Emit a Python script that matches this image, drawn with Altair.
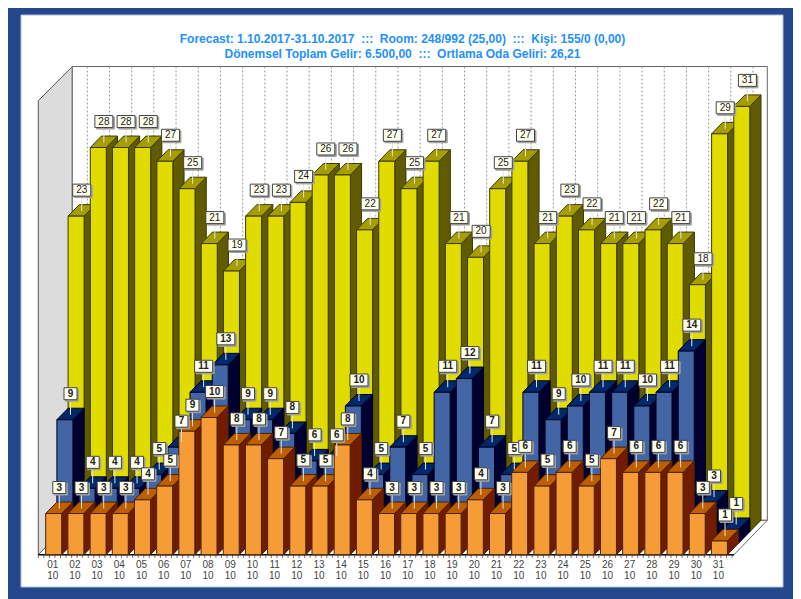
import altair as alt
import pandas as pd

yellow = [23,28,28,28,27,25,21,19,23,23,24,26,26,22,27,25,27,21,20,25,27,21,23,22,21,21,22,21,18,29,31]
blue = [9,4,4,4,5,7,11,13,9,9,8,6,6,10,5,7,5,11,12,7,5,11,9,10,11,11,10,11,14,3,1]
orange = [3,3,3,3,4,5,9,10,8,8,7,5,5,8,4,3,3,3,3,4,3,6,5,6,5,7,6,6,6,3,1]
days = [f"{d:02d}" for d in range(1, 32)]
month = "10"
title_1 = "Forecast: 1.10.2017-31.10.2017\u00a0\u00a0:::\u00a0\u00a0Room: 248/992 (25,00)\u00a0\u00a0:::\u00a0\u00a0Kişi: 155/0 (0,00)"
title_2 = "Dönemsel Toplam Gelir: 6.500,00\u00a0\u00a0:::\u00a0\u00a0Ortlama Oda Geliri: 26,21"

W_PX, H_PX = 785, 591
PX_DAY = 22.19
PX_VAL = 13.72
X0 = 45.7
Y0 = 554.7


def ux(px):
    return 1 + (px - X0) / PX_DAY


def uy(py):
    return (Y0 - py) / PX_VAL


XS = alt.Scale(domain=[ux(8), ux(8 + W_PX)], nice=False, zero=False)
YS = alt.Scale(domain=[uy(8 + H_PX), uy(8)], nice=False, zero=False)
X = alt.X("x:Q", axis=None, scale=XS)
Y = alt.Y("y:Q", axis=None, scale=YS)
X2 = alt.X2("x2:Q")
Y2 = alt.Y2("y2:Q")

BW = 16 / PX_DAY
DX = 11.2 / PX_DAY
DY = 11.5 / PX_VAL

palette = [
    (yellow, 2, "#E0DC00", "#A69E00", "#605A00", "#3A3800"),
    (blue, 1, "#4165A5", "#00296B", "#000030", "#000020"),
    (orange, 0, "#F59C36", "#BD5E00", "#711C00", "#4A2000"),
]


def faces(values, k, front, top, side, edge):
    rows = []
    for i, v in enumerate(values):
        L = i + 1 + k * DX
        b = k * DY
        t = b + v
        pid = f"{k}-{i:02d}"
        for (x, y, y2) in [(L + BW, t, b), (L + BW + DX, t + DY, b + DY)]:
            rows.append(dict(x=x, y=y, y2=y2, f=f"{pid}-a", c=side, s=edge))
        for (x, y, y2) in [(L, t, t), (L + DX, t + DY, t), (L + BW, t + DY, t), (L + BW + DX, t + DY, t + DY)]:
            rows.append(dict(x=x, y=y, y2=y2, f=f"{pid}-b", c=top, s=edge))
        for (x, y, y2) in [(L, t, b), (L + BW, t, b)]:
            rows.append(dict(x=x, y=y, y2=y2, f=f"{pid}-c", c=front, s=edge))
    return pd.DataFrame(rows)


def bars(df):
    return alt.Chart(df).mark_area(strokeWidth=1, interpolate="linear", clip=False).encode(
        x=X, y=Y, y2=Y2,
        fill=alt.Fill("c:N", scale=None),
        stroke=alt.Stroke("s:N", scale=None),
        detail="f:N",
    )


def labels(values, k, weight):
    leader, box = [], []
    for i, v in enumerate(values):
        cx = i + 1 + k * DX + BW / 2 + DX / 2
        t = k * DY + v
        hw = (9 if v >= 10 else 6.5) / PX_DAY
        hh = 6 / PX_VAL
        cy = t + 26 / PX_VAL
        leader.append(dict(x=cx, y=cy, y2=t + 5 / PX_VAL))
        sx, sy = 1.5 / PX_DAY, 1.5 / PX_VAL
        box.append(dict(x=cx - hw + sx, x2=cx + hw + sx, y=cy - hh - sy, y2=cy + hh - sy, c="#A0A0A0", s="#A0A0A0", o=2 * i))
        box.append(dict(x=cx - hw, x2=cx + hw, y=cy - hh, y2=cy + hh, c="#FFFFF0", s="#444444", o=2 * i + 1))
    ldf = pd.DataFrame(leader)
    bdf = pd.DataFrame(box)
    tdf = pd.DataFrame([dict(x=l["x"], y=l["y"], t=str(v)) for l, v in zip(leader, values)])
    lead = alt.Chart(ldf).mark_rule(color="#E4E4E4", strokeWidth=1).encode(x=X, y=Y, y2=Y2)
    rect = alt.Chart(bdf).mark_rect(strokeWidth=1).encode(
        x=X, x2=X2, y=Y, y2=Y2,
        fill=alt.Fill("c:N", scale=None),
        stroke=alt.Stroke("s:N", scale=None),
        order="o:Q",
    )
    text = alt.Chart(tdf).mark_text(font="Liberation Sans", fontSize=10, fontWeight=weight, color="#222222", baseline="middle", align="center").encode(
        x=X, y=Y, text="t:N"
    )
    return [lead, rect, text]


# Panel
panel = alt.Chart(pd.DataFrame({"a": [0]})).mark_rect(fill="white", stroke="#AFC0DC", strokeWidth=1).encode(
    x=alt.value(13), x2=alt.value(775), y=alt.value(7), y2=alt.value(579)
)

# Walls and floor
xa, xb, xc, xd = ux(38.3), ux(72.3), ux(734), ux(767.3)
yf, yb, yt, ytl = uy(554.7), uy(520.3), uy(66.5), uy(100.7)
left = alt.Chart(pd.DataFrame({"x": [xa, xb], "y": [ytl, yt], "y2": [yf, yb]})).mark_area(
    color="#DCDCDC", stroke="#555555", strokeWidth=1).encode(x=X, y=Y, y2=Y2)
back = alt.Chart(pd.DataFrame({"x": [xb, xd], "y": [yt, yt], "y2": [yb, yb]})).mark_area(
    color="white", stroke="#666666", strokeWidth=1).encode(x=X, y=Y, y2=Y2)
floor = alt.Chart(pd.DataFrame({"x": [xa, xb, xc, xd], "y": [yf, yb, yb, yb], "y2": [yf, yf, yf, yb]})).mark_area(
    color="white", stroke="#666666", strokeWidth=1).encode(x=X, y=Y, y2=Y2)

grid_df = pd.DataFrame({"x": [d + 2 * DX + BW / 2 + DX for d in range(1, 32)], "y": [yt] * 31, "y2": [yb] * 31})
grid = alt.Chart(grid_df).mark_rule(color="#999999", strokeWidth=1, strokeDash=[2, 2]).encode(x=X, y=Y, y2=Y2)

base_line = alt.Chart(pd.DataFrame({"x": [xa], "x2": [xc], "y": [yf]})).mark_rule(color="#111111", strokeWidth=1.6).encode(x=X, x2=X2, y=Y)

tick_x = [ux(38.3 + 5.55 * n) for n in range(126)]
tick_df = pd.DataFrame({"x": tick_x, "y": [uy(555)] * 126, "y2": [uy(558)] * 126})
ticks = alt.Chart(tick_df).mark_rule(color="#777777", strokeWidth=1).encode(x=X, y=Y, y2=Y2)

day_x = [d + BW / 2 - 1 / PX_DAY for d in range(1, 32)]
ax1 = alt.Chart(pd.DataFrame({"x": day_x, "y": [uy(565)] * 31, "t": days})).mark_text(
    font="Liberation Sans", fontSize=10, color="#444444", baseline="middle").encode(x=X, y=Y, text="t:N")
ax2 = alt.Chart(pd.DataFrame({"x": day_x, "y": [uy(576)] * 31, "t": [month] * 31})).mark_text(
    font="Liberation Sans", fontSize=10, color="#444444", baseline="middle").encode(x=X, y=Y, text="t:N")

t1 = alt.Chart(pd.DataFrame({"t": [title_1]})).mark_text(
    font="Liberation Sans", fontSize=12, fontWeight="bold", color="#1E90FF", baseline="middle").encode(
    x=alt.value(394.5), y=alt.value(31), text="t:N")
t2 = alt.Chart(pd.DataFrame({"t": [title_2]})).mark_text(
    font="Liberation Sans", fontSize=12, fontWeight="bold", color="#1E90FF", baseline="middle").encode(
    x=alt.value(394.5), y=alt.value(45.5), text="t:N")

layers = [panel, left, back, floor, grid, ticks, base_line]
for (vals, k, fr, tp, sd, ed) in palette:
    layers.append(bars(faces(vals, k, fr, tp, sd, ed)))
layers += [ax1, ax2, t1, t2]
layers += labels(yellow, 2, "normal")
layers += labels(blue, 1, "bold")
layers += labels(orange, 0, "bold")

chart = alt.layer(*layers).properties(
    width=W_PX, height=H_PX, padding=0, background="#25488C",
    autosize=alt.AutoSizeParams(type="none"),
).configure_view(stroke=None)

chart.save("out.html", embed_options={"renderer": "svg", "actions": False})
